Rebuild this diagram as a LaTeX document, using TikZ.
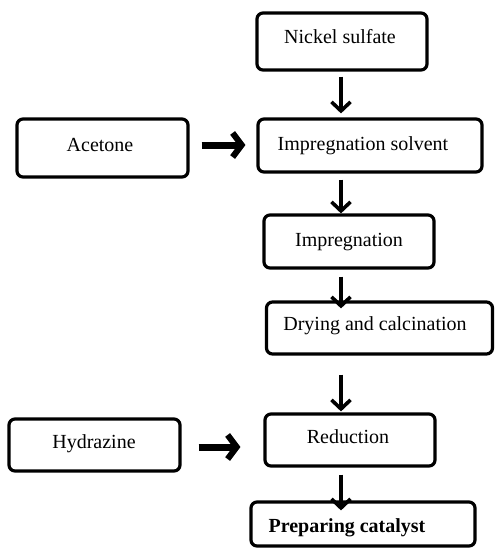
\documentclass[tikz,border=0pt]{standalone}
\usepackage{fontspec}
\setmainfont{Liberation Serif}
\usetikzlibrary{arrows.meta}
\begin{document}
\begin{tikzpicture}[x=1pt,y=-1pt,
  box/.style={draw=black,line width=3.2pt,rounded corners=6pt,inner sep=0pt},
  txt/.style={anchor=base,inner sep=0pt,font=\fontsize{20}{24}\selectfont},
  varrow/.style={line width=3.2pt,-{Straight Barb[length=9pt,width=19pt,line width=3.6pt]}},
  harrow/.style={line width=7pt,-{Straight Barb[length=9pt,width=24pt,line width=6pt]}},
  hshadow/.style={harrow,draw=gray!60}]
\useasboundingbox (0,0) rectangle (495,550);
\node[box,minimum width=170pt,minimum height=57pt] (nickel) at (342,41.5) {};
\node[box,minimum width=224pt,minimum height=53pt] (solvent) at (370,145.5) {};
\node[box,minimum width=170pt,minimum height=53pt] (impreg) at (349,241.5) {};
\node[box,minimum width=226pt,minimum height=52pt] (drying) at (379.5,328) {};
\node[box,minimum width=170pt,minimum height=52pt] (reduction) at (350,440) {};
\node[box,minimum width=224pt,minimum height=44pt] (catalyst) at (363,524) {};
\node[box,minimum width=171pt,minimum height=58pt] (acetone) at (102.5,148) {};
\node[box,minimum width=171pt,minimum height=52pt] (hydrazine) at (94.5,445) {};
\node[txt] (tnickel) at (340,43) {Nickel sulfate};
\node[txt] (tsolvent) at (363,150) {Impregnation solvent};
\node[txt] (timpreg) at (349,246) {Impregnation};
\node[txt] (tdrying) at (375,330) {Drying and calcination};
\node[txt] (treduction) at (348,443) {Reduction};
\node[txt] (tcatalyst) at (347,532) {\bfseries Preparing catalyst};
\node[txt] (tacetone) at (100,151) {Acetone};
\node[txt] (thydrazine) at (94,448) {Hydrazine};
\coordinate (vx) at (341,0);
\draw[varrow,shorten <=5pt,shorten >=4pt] (nickel.south -| vx) -- (solvent.north -| vx);
\draw[varrow,shorten <=6pt,shorten >=0pt] (solvent.south -| vx) -- (impreg.north -| vx);
\draw[varrow,shorten <=7pt,shorten >=-8pt] (impreg.south -| vx) -- (drying.north -| vx);
\draw[varrow,shorten <=19pt,shorten >=1pt] (drying.south -| vx) -- (reduction.north -| vx);
\draw[varrow,shorten <=7pt,shorten >=-10pt] (reduction.south -| vx) -- (catalyst.north -| vx);
\coordinate (ha) at (0,145);
\coordinate (hb) at (0,447);
\begin{scope}[xshift=2pt,yshift=-2.5pt]
\draw[hshadow,shorten <=12pt,shorten >=11pt] (acetone.east |- ha) -- (solvent.west |- ha);
\draw[hshadow,shorten <=17pt,shorten >=23pt] (hydrazine.east |- hb) -- (reduction.west |- hb);
\end{scope}
\draw[harrow,shorten <=12pt,shorten >=11pt] (acetone.east |- ha) -- (solvent.west |- ha);
\draw[harrow,shorten <=17pt,shorten >=23pt] (hydrazine.east |- hb) -- (reduction.west |- hb);
\end{tikzpicture}
\end{document}
